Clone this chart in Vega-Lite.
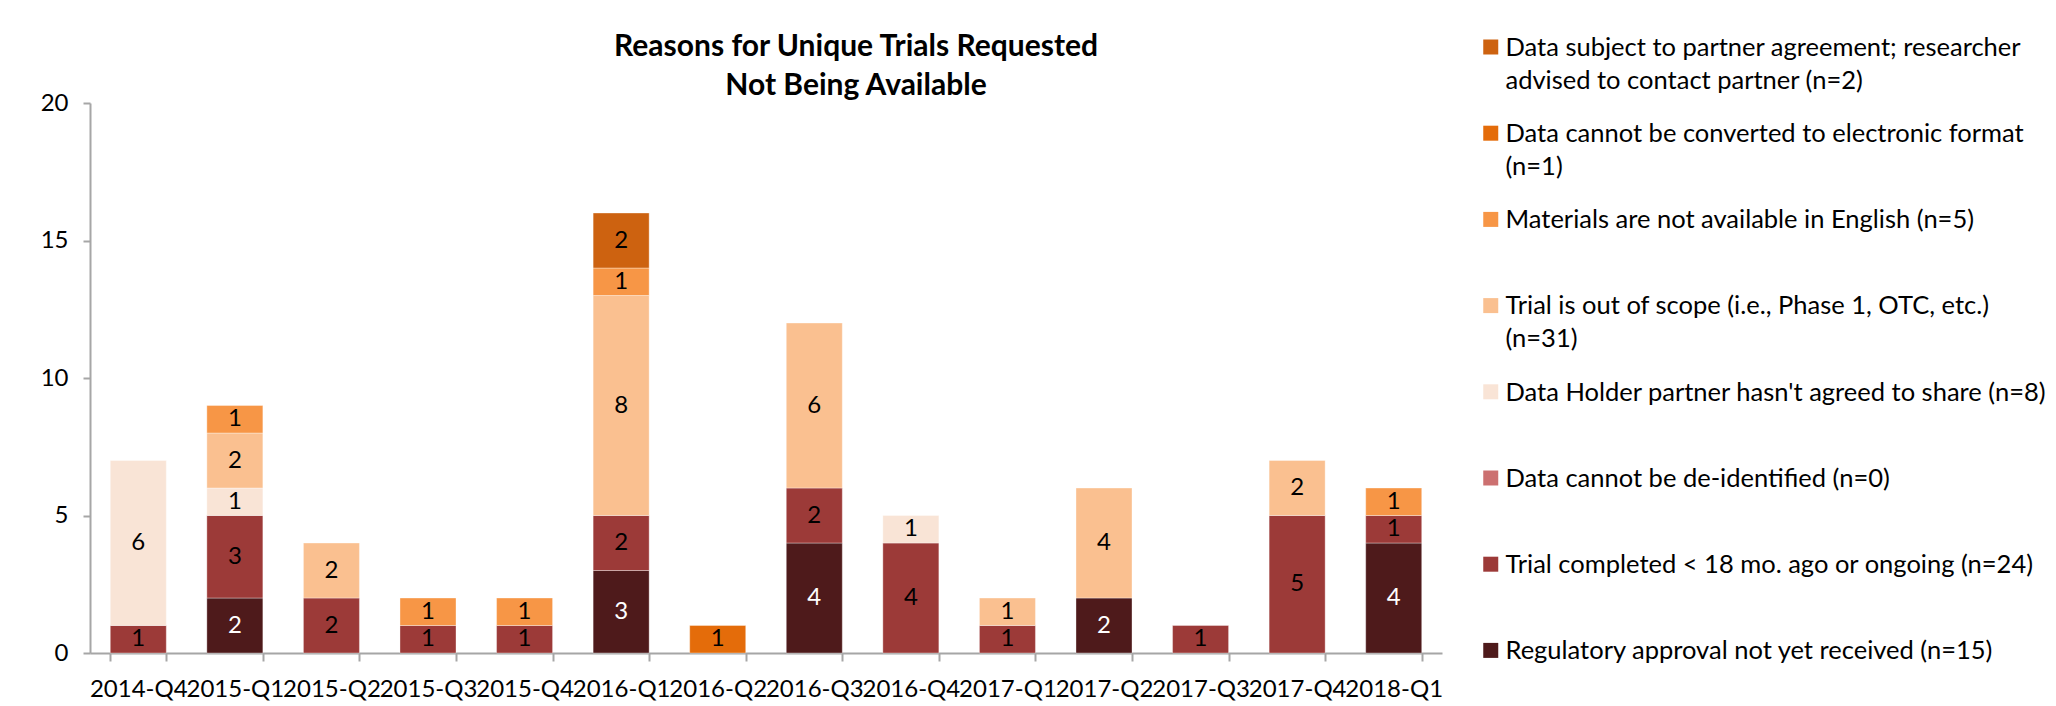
{
  "$schema": "https://vega.github.io/schema/vega-lite/v6.json",
  "autosize": "none",
  "padding": {"left": 90, "top": 103, "right": 614, "bottom": 53},
  "width": 1352,
  "height": 550,
  "background": "white",
  "config": {
    "view": {"stroke": null},
    "style": {"guide-label": {"lineHeight": 33}}
  },
  "title": {
    "text": ["Reasons for Unique Trials Requested", "Not Being Available"],
    "font": "Lato",
    "fontSize": 30,
    "fontWeight": "bold",
    "lineHeight": 39,
    "color": "black",
    "anchor": "middle",
    "dx": 90,
    "dy": 88,
    "offset": 10
  },
  "datasets": {
    "reasons": [
      {"reason": "Regulatory approval not yet received (n=15)", "rank": 1},
      {"reason": "Trial completed < 18 mo. ago or ongoing (n=24)", "rank": 2},
      {"reason": "Data cannot be de-identified (n=0)", "rank": 3},
      {"reason": "Data Holder partner hasn't agreed to share (n=8)", "rank": 4},
      {"reason": "Trial is out of scope (i.e., Phase 1, OTC, etc.)\n(n=31)", "rank": 5},
      {"reason": "Materials are not available in English (n=5)", "rank": 6},
      {"reason": "Data cannot be converted to electronic format\n(n=1)", "rank": 7},
      {"reason": "Data subject to partner agreement; researcher\nadvised to contact partner (n=2)", "rank": 8}
    ],
    "segments": [
      {"quarter": "2014-Q4", "reason": "Trial completed < 18 mo. ago or ongoing (n=24)", "count": 1},
      {"quarter": "2014-Q4", "reason": "Data Holder partner hasn't agreed to share (n=8)", "count": 6},
      {"quarter": "2015-Q1", "reason": "Regulatory approval not yet received (n=15)", "count": 2},
      {"quarter": "2015-Q1", "reason": "Trial completed < 18 mo. ago or ongoing (n=24)", "count": 3},
      {"quarter": "2015-Q1", "reason": "Data Holder partner hasn't agreed to share (n=8)", "count": 1},
      {"quarter": "2015-Q1", "reason": "Trial is out of scope (i.e., Phase 1, OTC, etc.)\n(n=31)", "count": 2},
      {"quarter": "2015-Q1", "reason": "Materials are not available in English (n=5)", "count": 1},
      {"quarter": "2015-Q2", "reason": "Trial completed < 18 mo. ago or ongoing (n=24)", "count": 2},
      {"quarter": "2015-Q2", "reason": "Trial is out of scope (i.e., Phase 1, OTC, etc.)\n(n=31)", "count": 2},
      {"quarter": "2015-Q3", "reason": "Trial completed < 18 mo. ago or ongoing (n=24)", "count": 1},
      {"quarter": "2015-Q3", "reason": "Materials are not available in English (n=5)", "count": 1},
      {"quarter": "2015-Q4", "reason": "Trial completed < 18 mo. ago or ongoing (n=24)", "count": 1},
      {"quarter": "2015-Q4", "reason": "Materials are not available in English (n=5)", "count": 1},
      {"quarter": "2016-Q1", "reason": "Regulatory approval not yet received (n=15)", "count": 3},
      {"quarter": "2016-Q1", "reason": "Trial completed < 18 mo. ago or ongoing (n=24)", "count": 2},
      {"quarter": "2016-Q1", "reason": "Trial is out of scope (i.e., Phase 1, OTC, etc.)\n(n=31)", "count": 8},
      {"quarter": "2016-Q1", "reason": "Materials are not available in English (n=5)", "count": 1},
      {"quarter": "2016-Q1", "reason": "Data subject to partner agreement; researcher\nadvised to contact partner (n=2)", "count": 2},
      {"quarter": "2016-Q2", "reason": "Data cannot be converted to electronic format\n(n=1)", "count": 1},
      {"quarter": "2016-Q3", "reason": "Regulatory approval not yet received (n=15)", "count": 4},
      {"quarter": "2016-Q3", "reason": "Trial completed < 18 mo. ago or ongoing (n=24)", "count": 2},
      {"quarter": "2016-Q3", "reason": "Trial is out of scope (i.e., Phase 1, OTC, etc.)\n(n=31)", "count": 6},
      {"quarter": "2016-Q4", "reason": "Trial completed < 18 mo. ago or ongoing (n=24)", "count": 4},
      {"quarter": "2016-Q4", "reason": "Data Holder partner hasn't agreed to share (n=8)", "count": 1},
      {"quarter": "2017-Q1", "reason": "Trial completed < 18 mo. ago or ongoing (n=24)", "count": 1},
      {"quarter": "2017-Q1", "reason": "Trial is out of scope (i.e., Phase 1, OTC, etc.)\n(n=31)", "count": 1},
      {"quarter": "2017-Q2", "reason": "Regulatory approval not yet received (n=15)", "count": 2},
      {"quarter": "2017-Q2", "reason": "Trial is out of scope (i.e., Phase 1, OTC, etc.)\n(n=31)", "count": 4},
      {"quarter": "2017-Q3", "reason": "Trial completed < 18 mo. ago or ongoing (n=24)", "count": 1},
      {"quarter": "2017-Q4", "reason": "Trial completed < 18 mo. ago or ongoing (n=24)", "count": 5},
      {"quarter": "2017-Q4", "reason": "Trial is out of scope (i.e., Phase 1, OTC, etc.)\n(n=31)", "count": 2},
      {"quarter": "2018-Q1", "reason": "Regulatory approval not yet received (n=15)", "count": 4},
      {"quarter": "2018-Q1", "reason": "Trial completed < 18 mo. ago or ongoing (n=24)", "count": 1},
      {"quarter": "2018-Q1", "reason": "Materials are not available in English (n=5)", "count": 1}
    ]
  },
  "data": {"name": "segments"},
  "transform": [
    {"lookup": "reason", "from": {"data": {"name": "reasons"}, "key": "reason", "fields": ["rank"]}},
    {"stack": "count", "groupby": ["quarter"], "sort": [{"field": "rank", "order": "ascending"}], "as": ["lo", "hi"]},
    {"calculate": "(datum.lo + datum.hi) / 2", "as": "mid"}
  ],
  "layer": [
    {
      "mark": {"type": "bar", "stroke": "white", "strokeWidth": 1, "strokeOpacity": 0.35},
      "encoding": {
        "x": {
          "field": "quarter", "type": "nominal", "title": null,
          "scale": {"paddingInner": 0.42, "paddingOuter": 0.21},
          "axis": {
            "labelAngle": 0, "tickBand": "extent", "tickSize": 8, "tickWidth": 2, "tickColor": "#A6A6A6",
            "domainColor": "#A6A6A6", "domainWidth": 2, "labelFont": "Lato", "labelFontSize": 24,
            "labelColor": "black", "labelPadding": 16, "labelOverlap": false, "labelLimit": 200
          }
        },
        "y": {
          "field": "lo", "type": "quantitative", "title": null,
          "scale": {"domain": [0, 20], "nice": false},
          "axis": {
            "values": [0, 5, 10, 15, 20], "grid": false, "tickSize": 7, "tickWidth": 2, "tickColor": "#A6A6A6",
            "domainColor": "#A6A6A6", "domainWidth": 2, "labelFont": "Lato", "labelFontSize": 24,
            "labelColor": "black", "labelPadding": 15
          }
        },
        "y2": {"field": "hi"},
        "color": {
          "field": "reason", "type": "nominal",
          "scale": {
            "domain": [
              "Data subject to partner agreement; researcher\nadvised to contact partner (n=2)",
              "Data cannot be converted to electronic format\n(n=1)",
              "Materials are not available in English (n=5)",
              "Trial is out of scope (i.e., Phase 1, OTC, etc.)\n(n=31)",
              "Data Holder partner hasn't agreed to share (n=8)",
              "Data cannot be de-identified (n=0)",
              "Trial completed < 18 mo. ago or ongoing (n=24)",
              "Regulatory approval not yet received (n=15)"
            ],
            "range": ["#CD6210", "#E46C0A", "#F79646", "#FAC090", "#F9E4D6", "#CC7070", "#9C3A38", "#4E1A1B"]
          },
          "legend": {
            "orient": "none", "legendX": 1388, "legendY": -80, "direction": "vertical", "columns": 1,
            "title": null, "padding": 0, "symbolType": "M-1,0.5H1V2.5H-1Z", "symbolSize": 225,
            "symbolStrokeWidth": 0, "symbolOpacity": 1, "labelFont": "Lato", "labelFontSize": 25.5,
            "labelColor": "black", "labelBaseline": "top", "labelLimit": 700, "labelOffset": 2,
            "labelExpr": "split(datum.label, '\\n')", "gridAlign": "all", "rowPadding": 14.2
          }
        }
      }
    },
    {
      "mark": {"type": "text", "font": "Lato", "fontSize": 24, "baseline": "middle", "align": "center"},
      "encoding": {
        "x": {"field": "quarter", "type": "nominal"},
        "y": {"field": "mid", "type": "quantitative"},
        "text": {"field": "count", "type": "quantitative"},
        "color": {
          "condition": {"test": "datum.reason == 'Regulatory approval not yet received (n=15)'", "value": "white"},
          "value": "black"
        }
      }
    }
  ]
}
